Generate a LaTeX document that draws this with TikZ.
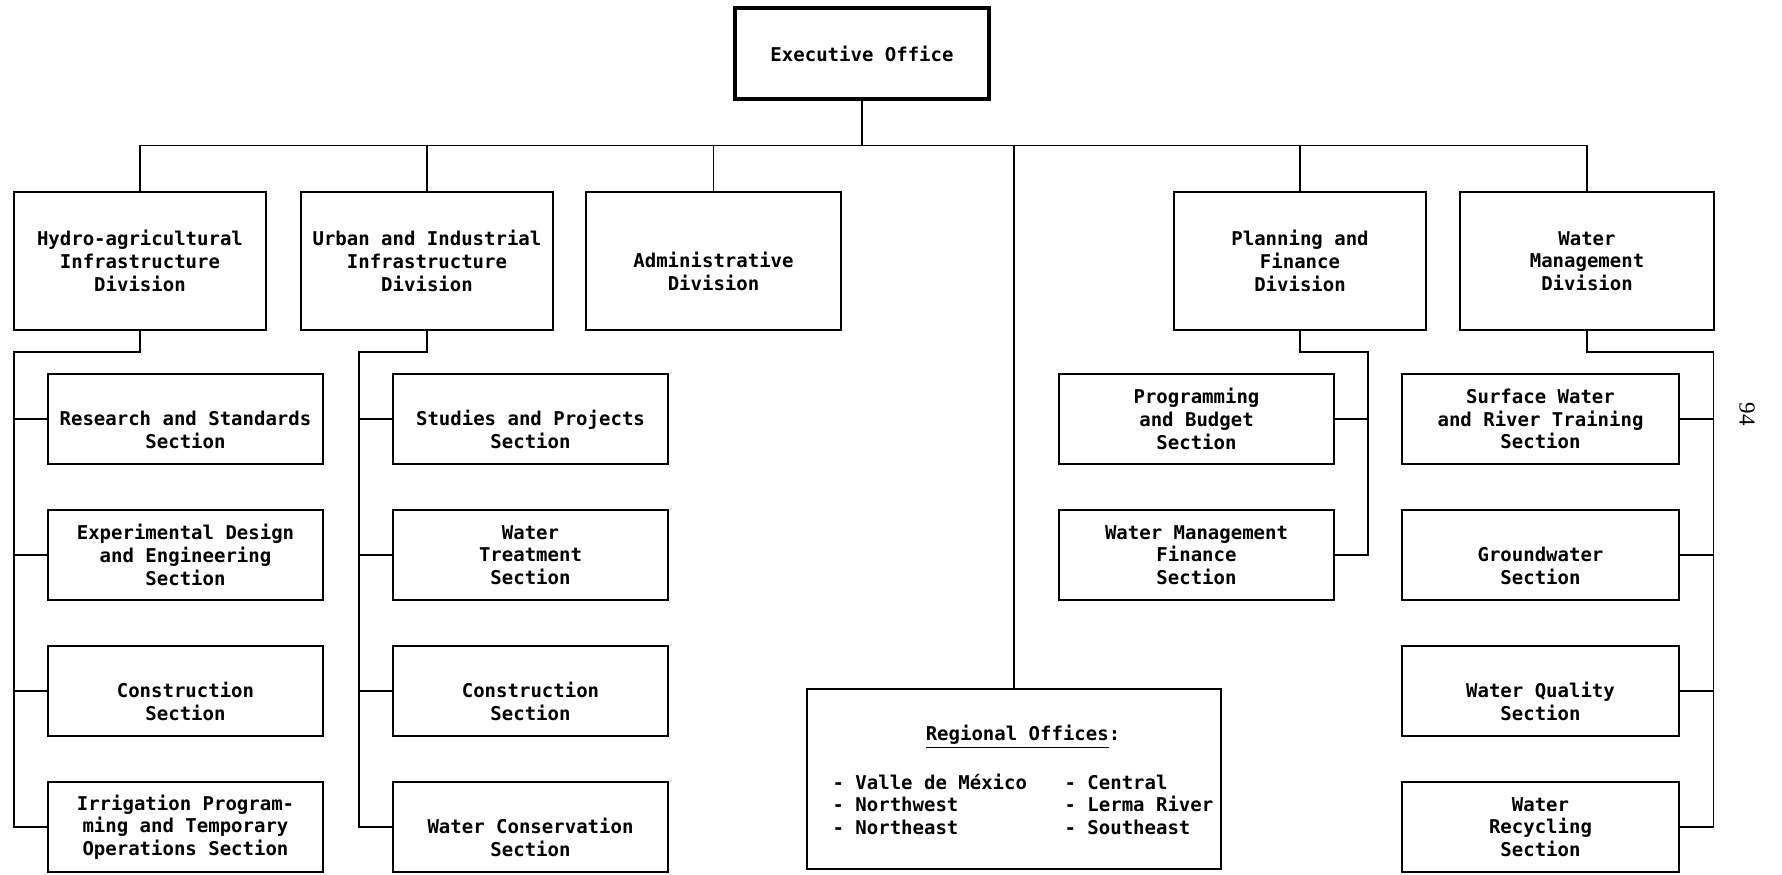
\documentclass[tikz,border=0pt]{standalone}
\usepackage{fontspec}
\setmonofont{DejaVu Sans Mono}
\setmainfont{Liberation Serif}
\begin{document}
\begin{tikzpicture}[x=0.5pt,y=-0.5pt,
  box/.style={draw, line width=0.85pt, align=center, inner sep=0pt,
    font=\ttfamily\bfseries\fontsize{9.5}{11.35}\selectfont},
  execbox/.style={box, line width=1.9pt, minimum width=127pt, minimum height=45.5pt},
  divbox/.style={box, minimum width=126pt, minimum height=69pt},
  secbox/.style={box, minimum width=137.5pt, minimum height=45pt},
  regbox/.style={draw, line width=0.85pt, minimum width=207pt, minimum height=90pt, inner sep=0pt},
  link/.style={line width=0.85pt}
]
\useasboundingbox (0,0) rectangle (1782,874);

% two-line labels sit on the lower two lines of a three-line slot
\newcommand{\lowtwo}[2]{\vphantom{H}\\#1\\#2}

% top of the chart
\node[execbox] (exec) at (862,53.5) {Executive Office};

% divisions
\node[divbox] (hydro) at (140,261) {Hydro-agricultural\\Infrastructure\\Division};
\node[divbox] (urban) at (427,261) {Urban and Industrial\\Infrastructure\\Division};
\node[divbox, minimum width=127.5pt] (admin) at (713.5,261) {\lowtwo{Administrative}{Division}};
\node[divbox] (plan) at (1300,261) {Planning and\\Finance\\Division};
\node[divbox, minimum width=127pt] (wm) at (1587,261) {Water\\Management\\Division};

% sections of the hydro-agricultural division
\node[secbox] (h1) at (185.5,419) {\lowtwo{Research and Standards}{Section}};
\node[secbox] (h2) at (185.5,555) {Experimental Design\\and Engineering\\Section};
\node[secbox] (h3) at (185.5,691) {\lowtwo{Construction}{Section}};
\node[secbox] (h4) at (185.5,827) {Irrigation Program-\\ming and Temporary\\Operations Section};

% sections of the urban and industrial division
\node[secbox] (u1) at (530.5,419) {\lowtwo{Studies and Projects}{Section}};
\node[secbox] (u2) at (530.5,555) {Water\\Treatment\\Section};
\node[secbox] (u3) at (530.5,691) {\lowtwo{Construction}{Section}};
\node[secbox] (u4) at (530.5,827) {\lowtwo{Water Conservation}{Section}};

% sections of the planning and finance division
\node[secbox] (p1) at (1196.5,419) {Programming\\and Budget\\Section};
\node[secbox] (p2) at (1196.5,555) {Water Management\\Finance\\Section};

% sections of the water management division
\node[secbox, minimum width=138.5pt] (w1) at (1540.5,419) {Surface Water\\and River Training\\Section};
\node[secbox, minimum width=138.5pt] (w2) at (1540.5,555) {\lowtwo{Groundwater}{Section}};
\node[secbox, minimum width=138.5pt] (w3) at (1540.5,691) {\lowtwo{Water Quality}{Section}};
\node[secbox, minimum width=138.5pt] (w4) at (1540.5,827) {Water\\Recycling\\Section};

% regional offices
\node[regbox] (reg) at (1014,779) {};
\node[font=\ttfamily\bfseries\fontsize{9.5}{11.35}\selectfont, align=left, inner sep=0pt]
  (reglist) at (1023,780) {%
  \makebox[190.4pt][c]{\underline{Regional Offices}:}\\[11.5pt]
  \makebox[116pt][l]{- Valle de México}- Central\\
  \makebox[116pt][l]{- Northwest}- Lerma River\\
  \makebox[116pt][l]{- Northeast}- Southeast};

% page number
\node[font=\fontsize{11.5}{13}\selectfont, rotate=-90, inner sep=0pt] (pageno) at (1747,414) {94};

% main bus
\coordinate (bus) at (0,145.5);
\draw[link] (exec.south) -- (exec.south |- bus);
\draw[link] (hydro.north) -- (hydro.north |- bus) -- (wm.north |- bus) -- (wm.north);
\draw[link] (urban.north) -- (urban.north |- bus);
\draw[link] (admin.north) -- (admin.north |- bus);
\draw[link] (plan.north) -- (plan.north |- bus);
\draw[link] (reg.north) -- (reg.north |- bus);

% hydro-agricultural branch
\coordinate (hs) at (14,352);
\draw[link] (hydro.south) |- (hs) -- (hs |- h4.west) -- (h4.west);
\foreach \s in {h1,h2,h3} \draw[link] (hs |- \s.west) -- (\s.west);

% urban and industrial branch
\coordinate (us) at (359,352);
\draw[link] (urban.south) |- (us) -- (us |- u4.west) -- (u4.west);
\foreach \s in {u1,u2,u3} \draw[link] (us |- \s.west) -- (\s.west);

% planning and finance branch
\coordinate (ps) at (1368,352);
\draw[link] (plan.south) |- (ps) -- (ps |- p2.east) -- (p2.east);
\draw[link] (ps |- p1.east) -- (p1.east);

% water management branch
\coordinate (ws) at (1713.5,352);
\draw[link] (wm.south) |- (ws) -- (ws |- w4.east) -- (w4.east);
\foreach \s in {w1,w2,w3} \draw[link] (ws |- \s.east) -- (\s.east);
\end{tikzpicture}
\end{document}
